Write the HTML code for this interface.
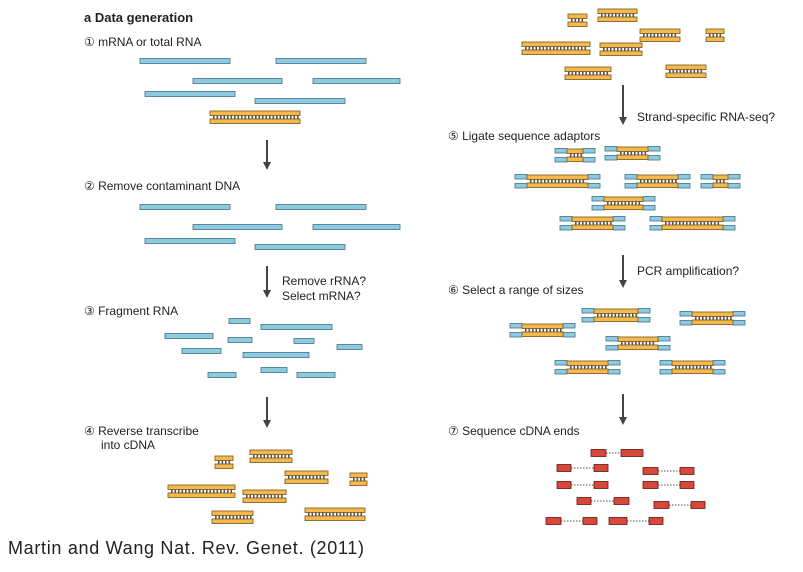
<!DOCTYPE html>
<html><head><meta charset="utf-8"><style>
body{margin:0;background:#fff;width:803px;height:572px;overflow:hidden}
svg{display:block}
text{font-family:"Liberation Sans",sans-serif;fill:#222}
</style></head><body>
<svg id="s" width="803" height="572">
<defs><marker id="ah" markerWidth="8" markerHeight="8" refX="4" refY="4" orient="auto" markerUnits="userSpaceOnUse"><path d="M0,0 L8,4 L0,8 z" fill="#444"/></marker></defs>
<text x="84" y="22" font-size="13" font-weight="bold">a  Data generation</text>
<text x="84" y="46" font-size="12">① mRNA or total RNA</text>
<text x="84" y="190" font-size="12">② Remove contaminant DNA</text>
<text x="84" y="315" font-size="12">③ Fragment RNA</text>
<text x="84" y="435" font-size="12">④ Reverse transcribe</text>
<text x="101" y="449" font-size="12">into cDNA</text>
<text x="282" y="285" font-size="12">Remove rRNA?</text>
<text x="282" y="300" font-size="12">Select mRNA?</text>
<text x="637" y="121" font-size="12">Strand-specific RNA-seq?</text>
<text x="448" y="140" font-size="12">⑤ Ligate sequence adaptors</text>
<text x="637" y="275" font-size="12">PCR amplification?</text>
<text x="448" y="294" font-size="12">⑥ Select a range of sizes</text>
<text x="448" y="435" font-size="12">⑦ Sequence cDNA ends</text>
<text x="8" y="554" font-size="18" fill="#333" textLength="356">Martin and Wang Nat. Rev. Genet. (2011)</text>
<g id="g"></g>
</svg>
<script>
const NS="http://www.w3.org/2000/svg";
const g=document.getElementById('g');
function mk(t,a){const e=document.createElementNS(NS,t);for(const k in a)e.setAttribute(k,a[k]);g.appendChild(e);return e;}
// single-strand RNA [x1,x2,y]
const rna1=[[140,230,61],[276,366,61],[193,282,81],[313,400,81],[145,235,94],[255,345,101]];
const rna2=[[140,230,207],[276,366,207],[193,282,227],[313,400,227],[145,235,241],[255,345,247]];
const frags=[[229,250,321],[261,332,327],[165,213,336],[228,252,340],[294,314,341],[337,362,347],[182,221,351],[243,309,355],[261,287,370],[208,236,375],[297,335,375]];
// double strand [x1,x2,ytop]
const ds1=[[210,300,111]];
const ds4=[[215,233,456],[250,292,450],[285,328,471],[350,367,473],[168,235,485],[243,286,490],[305,365,508],[212,253,511]];
const dsTop=[[568,587,14],[598,637,9],[640,680,29],[706,724,29],[522,590,42],[600,642,43],[666,706,65],[565,611,67]];
const dsAd5=[[567,583,149],[617,648,147],[527,588,175],[637,678,175],[713,728,175],[604,643,197],[572,613,217],[662,723,217]];
const dsAd6=[[522,563,324],[594,638,309],[692,733,312],[618,658,337],[567,608,361],[672,713,361]];
const reads=[[591,606,621,643,453],[557,571,594,608,468],[643,658,680,694,471],[557,571,594,608,485],[643,658,680,694,485],[577,591,614,629,501],[654,669,691,705,505],[546,561,583,597,521],[609,627,649,663,521]];
const arrows=[[267,140,172],[267,266,300],[267,397,430],[623,85,127],[623,255,290],[623,394,427]];

function ss(a,name){a.forEach(d=>{const e=mk('rect',{x:d[0],y:d[2]-2.5,width:d[1]-d[0],height:5,fill:'#8fcbe0',stroke:'#4d7f94','stroke-width':0.9});

});}
function ds(a,name){a.forEach(d=>{const [x1,x2,y]=d;
const r=mk('g',{});
const b1=document.createElementNS(NS,'rect');b1.setAttribute('x',x1);b1.setAttribute('y',y);b1.setAttribute('width',x2-x1);b1.setAttribute('height',4.5);b1.setAttribute('fill','#f2b94c');b1.setAttribute('stroke','#8a6224');b1.setAttribute('stroke-width',0.9);r.appendChild(b1);
const b2=b1.cloneNode();b2.setAttribute('y',y+8);r.appendChild(b2);
for(let x=x1+3;x<x2-2;x+=3.5){const t=document.createElementNS(NS,'rect');t.setAttribute('x',x);t.setAttribute('y',y+4.5);t.setAttribute('width',1.6);t.setAttribute('height',3.5);t.setAttribute('fill','#555');r.appendChild(t);}
});}
function ad(a,name){a.forEach(d=>{const [x1,x2,y]=d;
[[x1-12,y-1],[x1-12,y+8],[x2,y-1],[x2,y+8]].forEach(p=>{const e=mk('rect',{x:p[0],y:p[1]+0.5,width:12,height:4.5,fill:'#8fcbe0',stroke:'#4d7f94','stroke-width':0.9});

});});ds(a,name);}
ss(rna1,'rna-strand');ss(rna2,'rna-strand');ss(frags,'rna-fragment');
ds(ds1,'dna-duplex');ds(ds4,'cdna-fragment');ds(dsTop,'cdna-fragment');
ad(dsAd5,'adapted-fragment');ad(dsAd6,'size-selected-fragment');
reads.forEach(d=>{const l=mk('line',{x1:d[1],y1:d[4],x2:d[2],y2:d[4],stroke:'#555','stroke-width':1,'stroke-dasharray':'1.5,1.5'});


[[d[0],d[1]],[d[2],d[3]]].forEach(p=>{const e=mk('rect',{x:p[0],y:d[4]-3.5,width:p[1]-p[0],height:7,fill:'#d9473a',stroke:'#5a1a12','stroke-width':0.8});

});});
arrows.forEach(a=>{const e=mk('line',{x1:a[0],y1:a[1],x2:a[0],y2:a[2]-6,stroke:'#444','stroke-width':2,'marker-end':'url(#ah)'});

});
</script>
</body></html>
